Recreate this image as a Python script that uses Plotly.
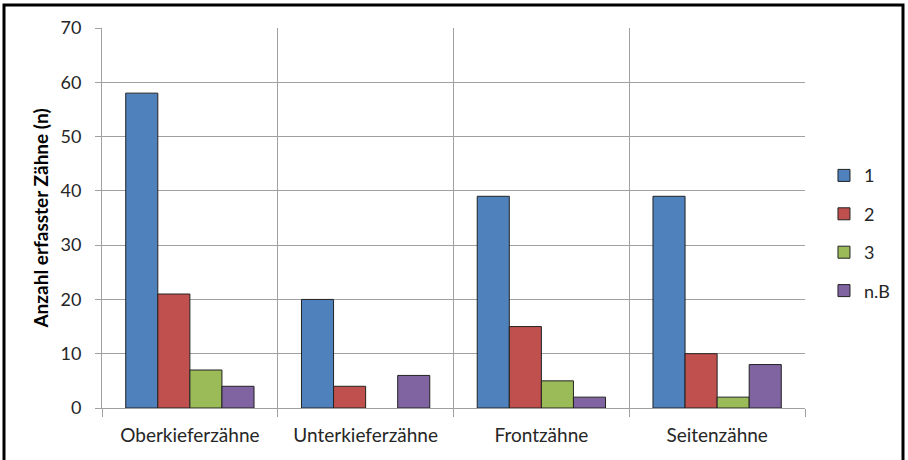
"""
Anzahl erfasster Zähne je Kieferregion, gruppiert nach Kategorie
"""
import plotly.graph_objects as go

# ── data ────────────────────────────────────────────────
CATS   = ["Oberkieferzähne", "Unterkieferzähne", "Frontzähne", "Seitenzähne"]
S1     = [58, 20, 39, 39]
S2     = [21, 4, 15, 10]
S3     = [7, 0, 5, 2]
SNB    = [4, 6, 2, 8]
NAMES  = ["1", "2", "3", "n.B"]
YTICKS = [0, 10, 20, 30, 40, 50, 60, 70]

# excel 2007 palette
COLS = ["#4F81BD", "#C0504D", "#9BBB59", "#8064A2"]
FONT = dict(family="Lato, 'Open Sans', sans-serif", color="#262626", size=18)
GRID = "#A0A0A0"

fig = go.Figure()
for i, (name, vals) in enumerate(zip(NAMES, [S1, S2, S3, SNB])):
    # empty bars (value 0) get no outline, like excel
    widths = [0 if v == 0 else 1 for v in vals]
    fig.add_trace(go.Bar(
        x=CATS, y=vals, name=name,
        marker=dict(color=COLS[i], line=dict(color="#222222", width=widths)),
        legendgroup=name,
    ))

# ── axes ────────────────────────────────────────────────
fig.update_xaxes(
    tickson="boundaries", ticks="outside", ticklen=8, tickcolor=GRID,
    showgrid=True, gridcolor=GRID, gridwidth=1,
    showline=True, linecolor=GRID, linewidth=1,
    tickfont=dict(size=19), ticklabelstandoff=10,
)
fig.update_yaxes(
    range=[0, 70], tickvals=YTICKS, ticks="outside", ticklen=6, tickcolor=GRID,
    showgrid=True, gridcolor=GRID, gridwidth=1,
    showline=True, linecolor=GRID, linewidth=1, zeroline=False,
    tickfont=dict(size=18), ticklabelstandoff=10,
    title=dict(text="<b>Anzahl erfasster Zähne (n)</b>",
               font=dict(size=19, color="#000000"), standoff=6),
    automargin=False,
)

# frame round the whole picture
fig.add_shape(type="rect", xref="paper", yref="paper",
              x0=(4 - 102) / 703, x1=(903 - 102) / 703,
              y0=(408 - 470) / 380, y1=(408 - 5) / 380,
              line=dict(color="#000000", width=3), fillcolor="rgba(0,0,0,0)")

fig.update_layout(
    barmode="group", bargap=0.27, bargroupgap=0,
    width=908, height=460,
    margin=dict(l=102, r=103, t=28, b=52, autoexpand=False),
    paper_bgcolor="#FFFFFF", plot_bgcolor="#FFFFFF", font=FONT,
    legend=dict(x=1.027, y=0.66, xanchor="left", yanchor="top",
                tracegroupgap=12, font=dict(size=18),
                itemwidth=30),
)

fig.write_html("out.html", config={"displayModeBar": False},
               post_script="document.body.style.margin='0';")
